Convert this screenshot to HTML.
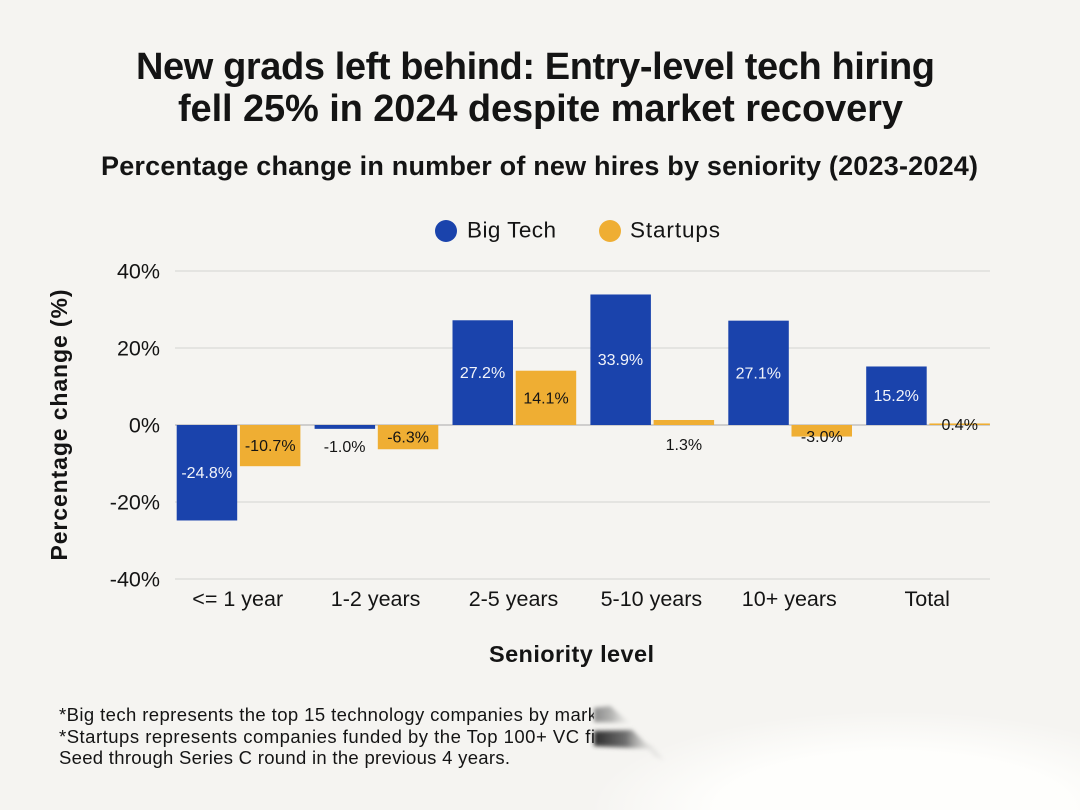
<!DOCTYPE html>
<html lang="en">
<head>
<meta charset="utf-8">
<title>New grads left behind</title>
<style>
html,body{margin:0;padding:0;width:1080px;height:810px;overflow:hidden;background:#f5f4f1;}
svg{display:block;overflow:hidden;font-family:"Liberation Sans",sans-serif;}
text{fill:#141414;}
.tick{font-size:21.5px;}
.val{font-size:16px;text-anchor:middle;dominant-baseline:central;}
</style>
</head>
<body>
<svg id="chart" width="1080" height="810" viewBox="0 0 1080 810" xmlns="http://www.w3.org/2000/svg">
  <defs>
    <clipPath id="note-clip"><rect x="0" y="690" width="594" height="120"/></clipPath>
    <radialGradient id="curl-glow" cx=".62" cy="1" r=".62" fx=".62" fy="1">
      <stop offset="0" stop-color="#fefefc" stop-opacity="1"/>
      <stop offset=".6" stop-color="#fefefc" stop-opacity=".95"/>
      <stop offset="1" stop-color="#fefefc" stop-opacity="0"/>
    </radialGradient>
    <linearGradient id="smudge-light" x1="0" x2="1" y1="0" y2="0">
      <stop offset="0" stop-color="#8a8a8a"/>
      <stop offset=".5" stop-color="#b5b5b3"/>
      <stop offset="1" stop-color="#dcdcda" stop-opacity=".2"/>
    </linearGradient>
    <linearGradient id="smudge-dark" x1="0" x2="1" y1="0" y2="0">
      <stop offset="0" stop-color="#2c2c2c"/>
      <stop offset=".55" stop-color="#707070"/>
      <stop offset="1" stop-color="#c8c8c6" stop-opacity=".3"/>
    </linearGradient>
    <filter id="blur-sm" x="-30%" y="-60%" width="160%" height="220%"><feGaussianBlur stdDeviation="2"/></filter>
  </defs>

  <rect x="0" y="0" width="1080" height="810" fill="#f5f4f1"/>

  <text x="136" y="79" font-size="38" font-weight="700" fill="#0a0a0a" textLength="799" lengthAdjust="spacing">New grads left behind: Entry-level tech hiring</text>
  <text x="178" y="121" font-size="38" font-weight="700" fill="#0a0a0a" textLength="725" lengthAdjust="spacing">fell 25% in 2024 despite market recovery</text>
  <text x="101" y="175" font-size="27" font-weight="700" fill="#0f0f0f" textLength="877" lengthAdjust="spacing">Percentage change in number of new hires by seniority (2023-2024)</text>

  <g>
    <circle cx="446" cy="231" r="11" fill="#1a43ac"/>
    <text x="467" y="237.5" font-size="22.5" textLength="89" lengthAdjust="spacing">Big Tech</text>
    <circle cx="610" cy="231" r="11" fill="#efae33"/>
    <text x="630" y="237.5" font-size="22.5" textLength="90" lengthAdjust="spacing">Startups</text>
  </g>

  <g id="grid"></g>
  <g id="bars"></g>
  <g id="ticks"></g>
  <g id="values"></g>

  <text transform="translate(67,425) rotate(-90)" text-anchor="middle" font-size="23" font-weight="700" fill="#0f0f0f" textLength="271" lengthAdjust="spacing">Percentage change (%)</text>
  <text x="489" y="662" font-size="23.5" font-weight="700" fill="#0f0f0f" textLength="165" lengthAdjust="spacing">Seniority level</text>

  <g clip-path="url(#note-clip)" font-size="18.5">
    <text x="59" y="721" fill="#1c1c1c" textLength="538" lengthAdjust="spacing">*Big tech represents the top 15 technology companies by mark</text>
    <text x="59" y="743" fill="#1c1c1c" textLength="536" lengthAdjust="spacing">*Startups represents companies funded by the Top 100+ VC fi</text>
    <text x="59" y="764" fill="#1c1c1c" textLength="451" lengthAdjust="spacing">Seed through Series C round in the previous 4 years.</text>
  </g>

  <g>
    <rect x="590" y="650" width="490" height="160" fill="url(#curl-glow)"/>
    <polygon points="594,708 610,706 630,723 594,722" fill="url(#smudge-light)" filter="url(#blur-sm)"/>
    <polygon points="594,731 632,730 652,749 594,746" fill="url(#smudge-dark)" filter="url(#blur-sm)"/>
    <polygon points="644,743 652,746 664,760 654,756" fill="#cfcfcd" opacity=".4" filter="url(#blur-sm)"/>
  </g>
</svg>
<script>
const categories = ["<= 1 year", "1-2 years", "2-5 years", "5-10 years", "10+ years", "Total"];
const bigTech = [-24.8, -1.0, 27.2, 33.9, 27.1, 15.2];
const startups = [-10.7, -6.3, 14.1, 1.3, -3.0, 0.4];
const yTicks = [40, 20, 0, -20, -40];

const SVGNS = "http://www.w3.org/2000/svg";
const gridG = document.getElementById("grid");
const barsG = document.getElementById("bars");
const ticksG = document.getElementById("ticks");
const valuesG = document.getElementById("values");

function yScale(v) { return 425 - v * 3.85; }
function xCenter(i) { return 238.2 + i * 137.9; }
function labelY(v) {
  const a = Math.abs(v);
  const mid = (yScale(v) + yScale(0)) / 2;
  if (a < 0.5) return yScale(0) + 0.5;
  if (a < 2) return yScale(0) + (v < 0 ? 22.5 : 20.5);
  if (a < 4) return mid + 6.5;
  return mid + 1;
}

yTicks.forEach(function (t) {
  const line = document.createElementNS(SVGNS, "line");
  
  
  line.setAttribute("x1", 175);
  line.setAttribute("x2", 990);
  line.setAttribute("y1", yScale(t));
  line.setAttribute("y2", yScale(t));
  line.setAttribute("stroke", t === 0 ? "#a9a9a9" : "#d3d3d1");
  line.setAttribute("stroke-width", 1);
  gridG.appendChild(line);

  const label = document.createElementNS(SVGNS, "text");
  
  
  label.setAttribute("class", "tick");
  label.setAttribute("x", 160);
  label.setAttribute("y", yScale(t) + 7.5);
  label.setAttribute("text-anchor", "end");
  label.textContent = t + "%";
  ticksG.appendChild(label);
});

function drawBar(v, x, color, name) {
  const r = document.createElementNS(SVGNS, "rect");
  
  
  r.setAttribute("x", x);
  r.setAttribute("width", 60.5);
  r.setAttribute("y", Math.min(yScale(v), yScale(0)));
  r.setAttribute("height", Math.abs(yScale(v) - yScale(0)));
  r.setAttribute("fill", color);
  barsG.appendChild(r);
}

function drawValue(v, cx, light, name) {
  const t = document.createElementNS(SVGNS, "text");
  
  
  t.setAttribute("class", "val");
  t.setAttribute("x", cx);
  t.setAttribute("y", labelY(v));
  t.setAttribute("style", "fill:" + (light ? "#f2f4fa" : "#141414"));
  t.textContent = v.toFixed(1) + "%";
  valuesG.appendChild(t);
}

categories.forEach(function (c, i) {
  const cx = xCenter(i);
  drawBar(bigTech[i], cx - 61.5, "#1a43ac", "bar-big-tech");
  drawBar(startups[i], cx + 1.7, "#efae33", "bar-startups");
  drawValue(bigTech[i], cx - 31.5, Math.abs(bigTech[i]) >= 4, "value-big-tech");
  drawValue(startups[i], cx + 32, false, "value-startups");

  const label = document.createElementNS(SVGNS, "text");
  
  
  label.setAttribute("class", "tick");
  label.setAttribute("x", cx - 0.5);
  label.setAttribute("y", 606);
  label.setAttribute("text-anchor", "middle");
  label.textContent = c;
  ticksG.appendChild(label);
});
</script>
</body>
</html>
